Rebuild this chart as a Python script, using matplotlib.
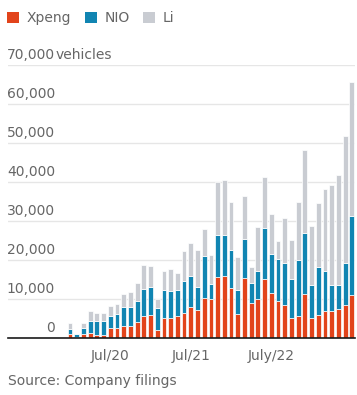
import matplotlib
matplotlib.use("Agg")
import matplotlib.pyplot as plt
from matplotlib.patches import Patch
import numpy as np

# monthly deliveries, Jan 2020 .. Jul 2023
months = [f"{y}-{m:02d}" for y in (2020, 2021, 2022, 2023) for m in range(1, 13)][:43]

xpeng = [1100, 300, 1100, 1450, 850, 750, 2550, 2550, 3250, 3040, 4224, 5700,
         6015, 2223, 5102, 5147, 5686, 6565, 8040, 7214, 10412, 10138, 15613, 16000,
         12922, 6225, 15414, 9002, 10125, 15295, 11524, 9578, 8468, 5101, 5811, 11292,
         5218, 6010, 7002, 7079, 7506, 8620, 11008]
nio = [1370, 800, 1450, 3050, 3650, 3750, 3250, 3700, 4708, 5055, 5291, 7007,
       7225, 5578, 7257, 7102, 6711, 8083, 7931, 5880, 10628, 3667, 10878, 10489,
       9652, 6131, 9985, 5074, 7024, 12961, 10052, 10677, 10878, 10059, 14178, 15815,
       8506, 12157, 10378, 6658, 6155, 10707, 20462]
li = [1450, 0, 1370, 2500, 1900, 1900, 2450, 2550, 3504, 3692, 4646, 6126,
      5379, 2300, 4900, 5539, 4323, 7713, 8589, 9433, 7094, 7649, 13485, 14087,
      12268, 8414, 11034, 4167, 11496, 13024, 10422, 4571, 11531, 10052, 15034, 21233,
      15141, 16620, 20823, 25681, 28277, 32575, 34134]

series = ["Xpeng", "NIO", "Li"]
colors = ["#e2441b", "#1185b2", "#c9ccd2"]

xtick_months = ["2020-07", "2021-07", "2022-07"]
xtick_labels = ["Jul/20", "Jul/21", "July/22"]
yticks = [0, 10000, 20000, 30000, 40000, 50000, 60000, 70000]

TXT = "#666666"
W, H = 357, 395

fig = plt.figure(figsize=(W / 100, H / 100), dpi=100)
fig.patch.set_facecolor("white")
ax = fig.add_axes([8 / W, (H - 338.3) / H, 347 / W, 273 / H])

x = np.arange(len(months))
bottom = np.zeros(len(months))
for vals, col in zip([xpeng, nio, li], colors):
    ax.bar(x, vals, bottom=bottom, width=0.72, color=col,
           edgecolor="white", linewidth=0.5, zorder=3)
    bottom += np.array(vals)

ax.set_xlim(-9.24, 42.47)
ax.set_ylim(0, 70000)

# gridlines with labels sitting above them
ax.set_yticks(yticks)
ax.set_yticklabels([])
ax.tick_params(axis="y", length=0)
ax.grid(axis="y", color="#e6e6e6", linewidth=1.0, zorder=0)
lift = 6 * 70000 / 273
for v in yticks:
    ax.text(-2.24, v + lift, f"{v:,}", ha="right", va="baseline",
            fontsize=10, color=TXT, zorder=4)
ax.text(-2.1, yticks[-1] + lift, "vehicles", ha="left", va="baseline",
        fontsize=10, color=TXT)

ax.set_xticks([months.index(m) for m in xtick_months])
ax.set_xticklabels(xtick_labels, fontsize=10, color=TXT)
ax.tick_params(axis="x", length=0, pad=8)

for s in ["top", "right", "left"]:
    ax.spines[s].set_visible(False)
ax.spines["bottom"].set_color("#1a1a1a")
ax.spines["bottom"].set_linewidth(1.2)
ax.spines["bottom"].set_zorder(5)

handles = [Patch(facecolor=c, edgecolor="none") for c in colors]
fig.legend(handles, series, loc="upper left", bbox_to_anchor=(7 / W, 1 - 11 / H),
           ncol=3, frameon=False, fontsize=10, labelcolor=TXT,
           handlelength=0.85, handleheight=0.85, handletextpad=0.55,
           columnspacing=1.0, borderpad=0, borderaxespad=0)

fig.text(8 / W, 1 - 385 / H, "Source: Company filings", fontsize=10,
         color=TXT, ha="left", va="baseline")

fig.savefig("out.png", dpi=100, facecolor="white")
